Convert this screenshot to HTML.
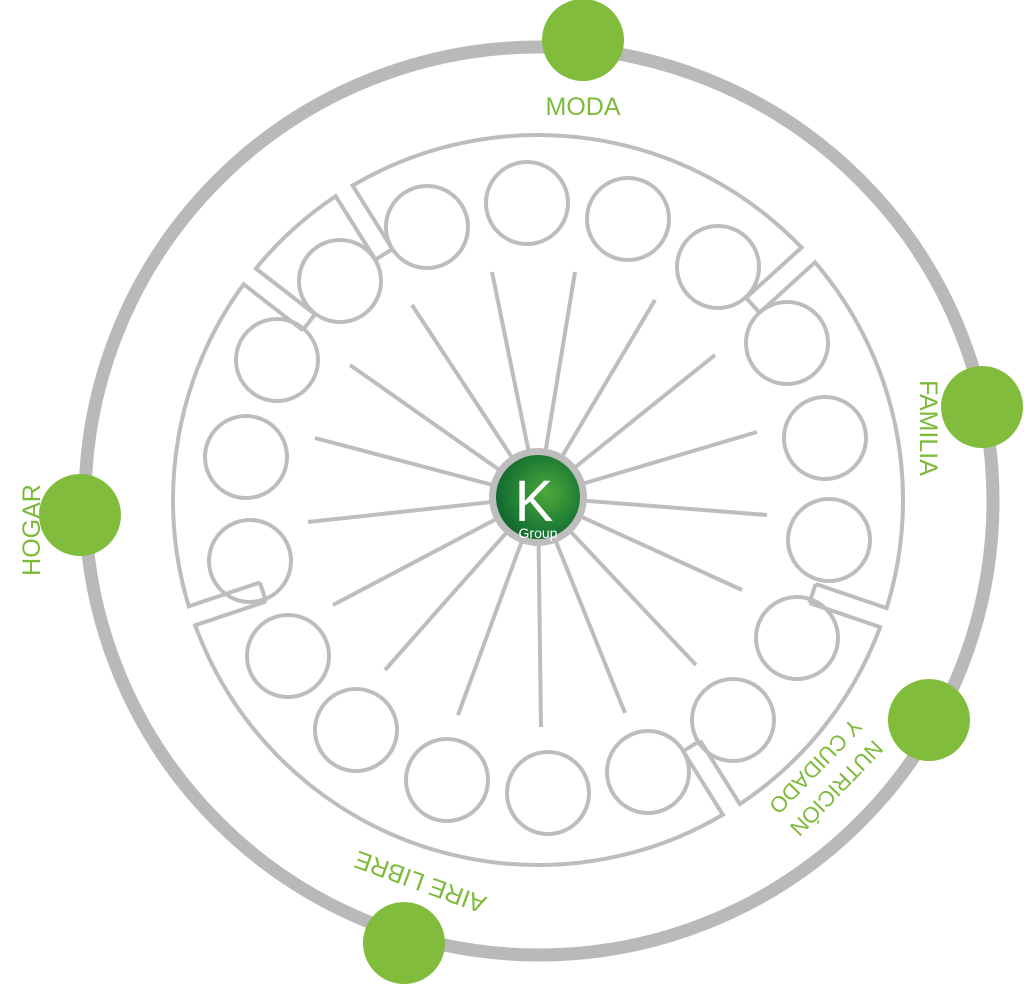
<!DOCTYPE html>
<html><head><meta charset="utf-8"><style>
html,body{margin:0;padding:0;background:#fff;}
svg{display:block;}
.lbl{font-family:"Liberation Sans",sans-serif;fill:#7dba3a;font-size:25px;}
</style></head><body>
<svg id="s" width="1024" height="985" viewBox="0 0 1024 985" xmlns="http://www.w3.org/2000/svg">
<defs>
<radialGradient id="g" cx="0.6" cy="0.45" r="0.7">
<stop offset="0" stop-color="#4fa83a"/><stop offset="0.6" stop-color="#1f7d34"/><stop offset="1" stop-color="#0b5e2c"/>
</radialGradient>
</defs>
<circle cx="539" cy="501" r="454" fill="none" stroke="#b9b9b9" stroke-width="13"/>
<g id="sect" fill="none" stroke="#bdbdbd" stroke-width="4"></g>
<g id="spk" stroke="#bdbdbd" stroke-width="4" stroke-linecap="butt">
<line x1="538" y1="497" x2="575" y2="272"/><line x1="538" y1="497" x2="492" y2="272"/>
<line x1="538" y1="497" x2="412" y2="305"/><line x1="538" y1="497" x2="350" y2="365"/>
<line x1="538" y1="497" x2="315" y2="438"/><line x1="538" y1="497" x2="308" y2="522"/>
<line x1="538" y1="497" x2="333" y2="605"/><line x1="538" y1="497" x2="385" y2="670"/>
<line x1="538" y1="497" x2="458" y2="715"/><line x1="538" y1="497" x2="541" y2="727"/>
<line x1="538" y1="497" x2="625" y2="713"/><line x1="538" y1="497" x2="696" y2="665"/>
<line x1="538" y1="497" x2="742" y2="590"/><line x1="538" y1="497" x2="767" y2="515"/>
<line x1="538" y1="497" x2="757" y2="432"/><line x1="538" y1="497" x2="715" y2="355"/>
<line x1="538" y1="497" x2="655" y2="300"/>
</g>
<g fill="none" stroke="#bdbdbd" stroke-width="4">
<circle cx="427" cy="227" r="41"/><circle cx="527" cy="203" r="41"/><circle cx="628" cy="219" r="41"/>
<circle cx="718" cy="267" r="41"/><circle cx="787" cy="343" r="41"/><circle cx="825" cy="438" r="41"/>
<circle cx="829" cy="540" r="41"/><circle cx="797" cy="638" r="41"/><circle cx="733" cy="720" r="41"/>
<circle cx="648" cy="772" r="41"/><circle cx="548" cy="793" r="41"/><circle cx="447" cy="780" r="41"/>
<circle cx="356" cy="730" r="41"/><circle cx="288" cy="656" r="41"/><circle cx="250" cy="561" r="41"/>
<circle cx="246" cy="457" r="41"/><circle cx="277" cy="360" r="41"/><circle cx="340" cy="281" r="41"/>
</g>
<circle cx="538" cy="497" r="49" fill="#bdbdbd"/>
<circle cx="538" cy="497" r="42" fill="url(#g)"/>
<text x="534" y="521" font-family="Liberation Sans,sans-serif" font-size="58" fill="#fff" text-anchor="middle">K</text>
<text x="538" y="538" font-family="Liberation Sans,sans-serif" font-size="14" fill="#fff" text-anchor="middle">Group</text>
<g fill="#82bc3c">
<circle cx="583" cy="40" r="41"/><circle cx="982" cy="407" r="41"/><circle cx="80" cy="515" r="41"/>
<circle cx="929" cy="720" r="41"/><circle cx="404" cy="943" r="41"/>
</g>
<text class="lbl" x="583" y="115" text-anchor="middle">MODA</text>
<text class="lbl" transform="translate(920,428) rotate(90)" text-anchor="middle">FAMILIA</text>
<text class="lbl" transform="translate(40,530) rotate(-90)" text-anchor="middle">HOGAR</text>
<text class="lbl" style="font-size:22px" transform="translate(831,783) rotate(134)" text-anchor="middle">NUTRICIÓN</text>
<text class="lbl" style="font-size:22px" transform="translate(810,761) rotate(134)" text-anchor="middle">Y CUIDADO</text>
<text class="lbl" transform="translate(423,874) rotate(200)" text-anchor="middle">AIRE LIBRE</text>
</svg>
<script>
(function(){
var cx=538,cy=500,Ro=365,Ri=290,g=10;
var B=[-142.2,-122.1,-42.2,18.8,58,161.5];
function pt(th,r,s){var t=th*Math.PI/180;var ux=Math.cos(t),uy=Math.sin(t);return [cx+r*ux-s*g*uy,cy+r*uy+s*g*ux];}
var ro=Math.sqrt(Ro*Ro-g*g);
var d="";
for(var i=0;i<6;i++){
 var a=B[i],b=(i<5?B[i+1]:B[0]+360);
 var p1=pt(a,Ri,1),p2=pt(a,ro,1),p3=pt(b,ro,-1),p4=pt(b,Ri,-1);
 var large=(b-a)>180?1:0;
 d+="M"+p1+" L"+p2+" A"+Ro+" "+Ro+" 0 "+large+" 1 "+p3+" L"+p4+" ";
 var q1=pt(a,Ri,1),q2=pt(a,Ri,-1);
 d+="M"+q1+" L"+q2+" ";
}
var p=document.createElementNS("http://www.w3.org/2000/svg","path");
p.setAttribute("d",d);
document.getElementById("sect").appendChild(p);
})();
</script>
</body></html>
